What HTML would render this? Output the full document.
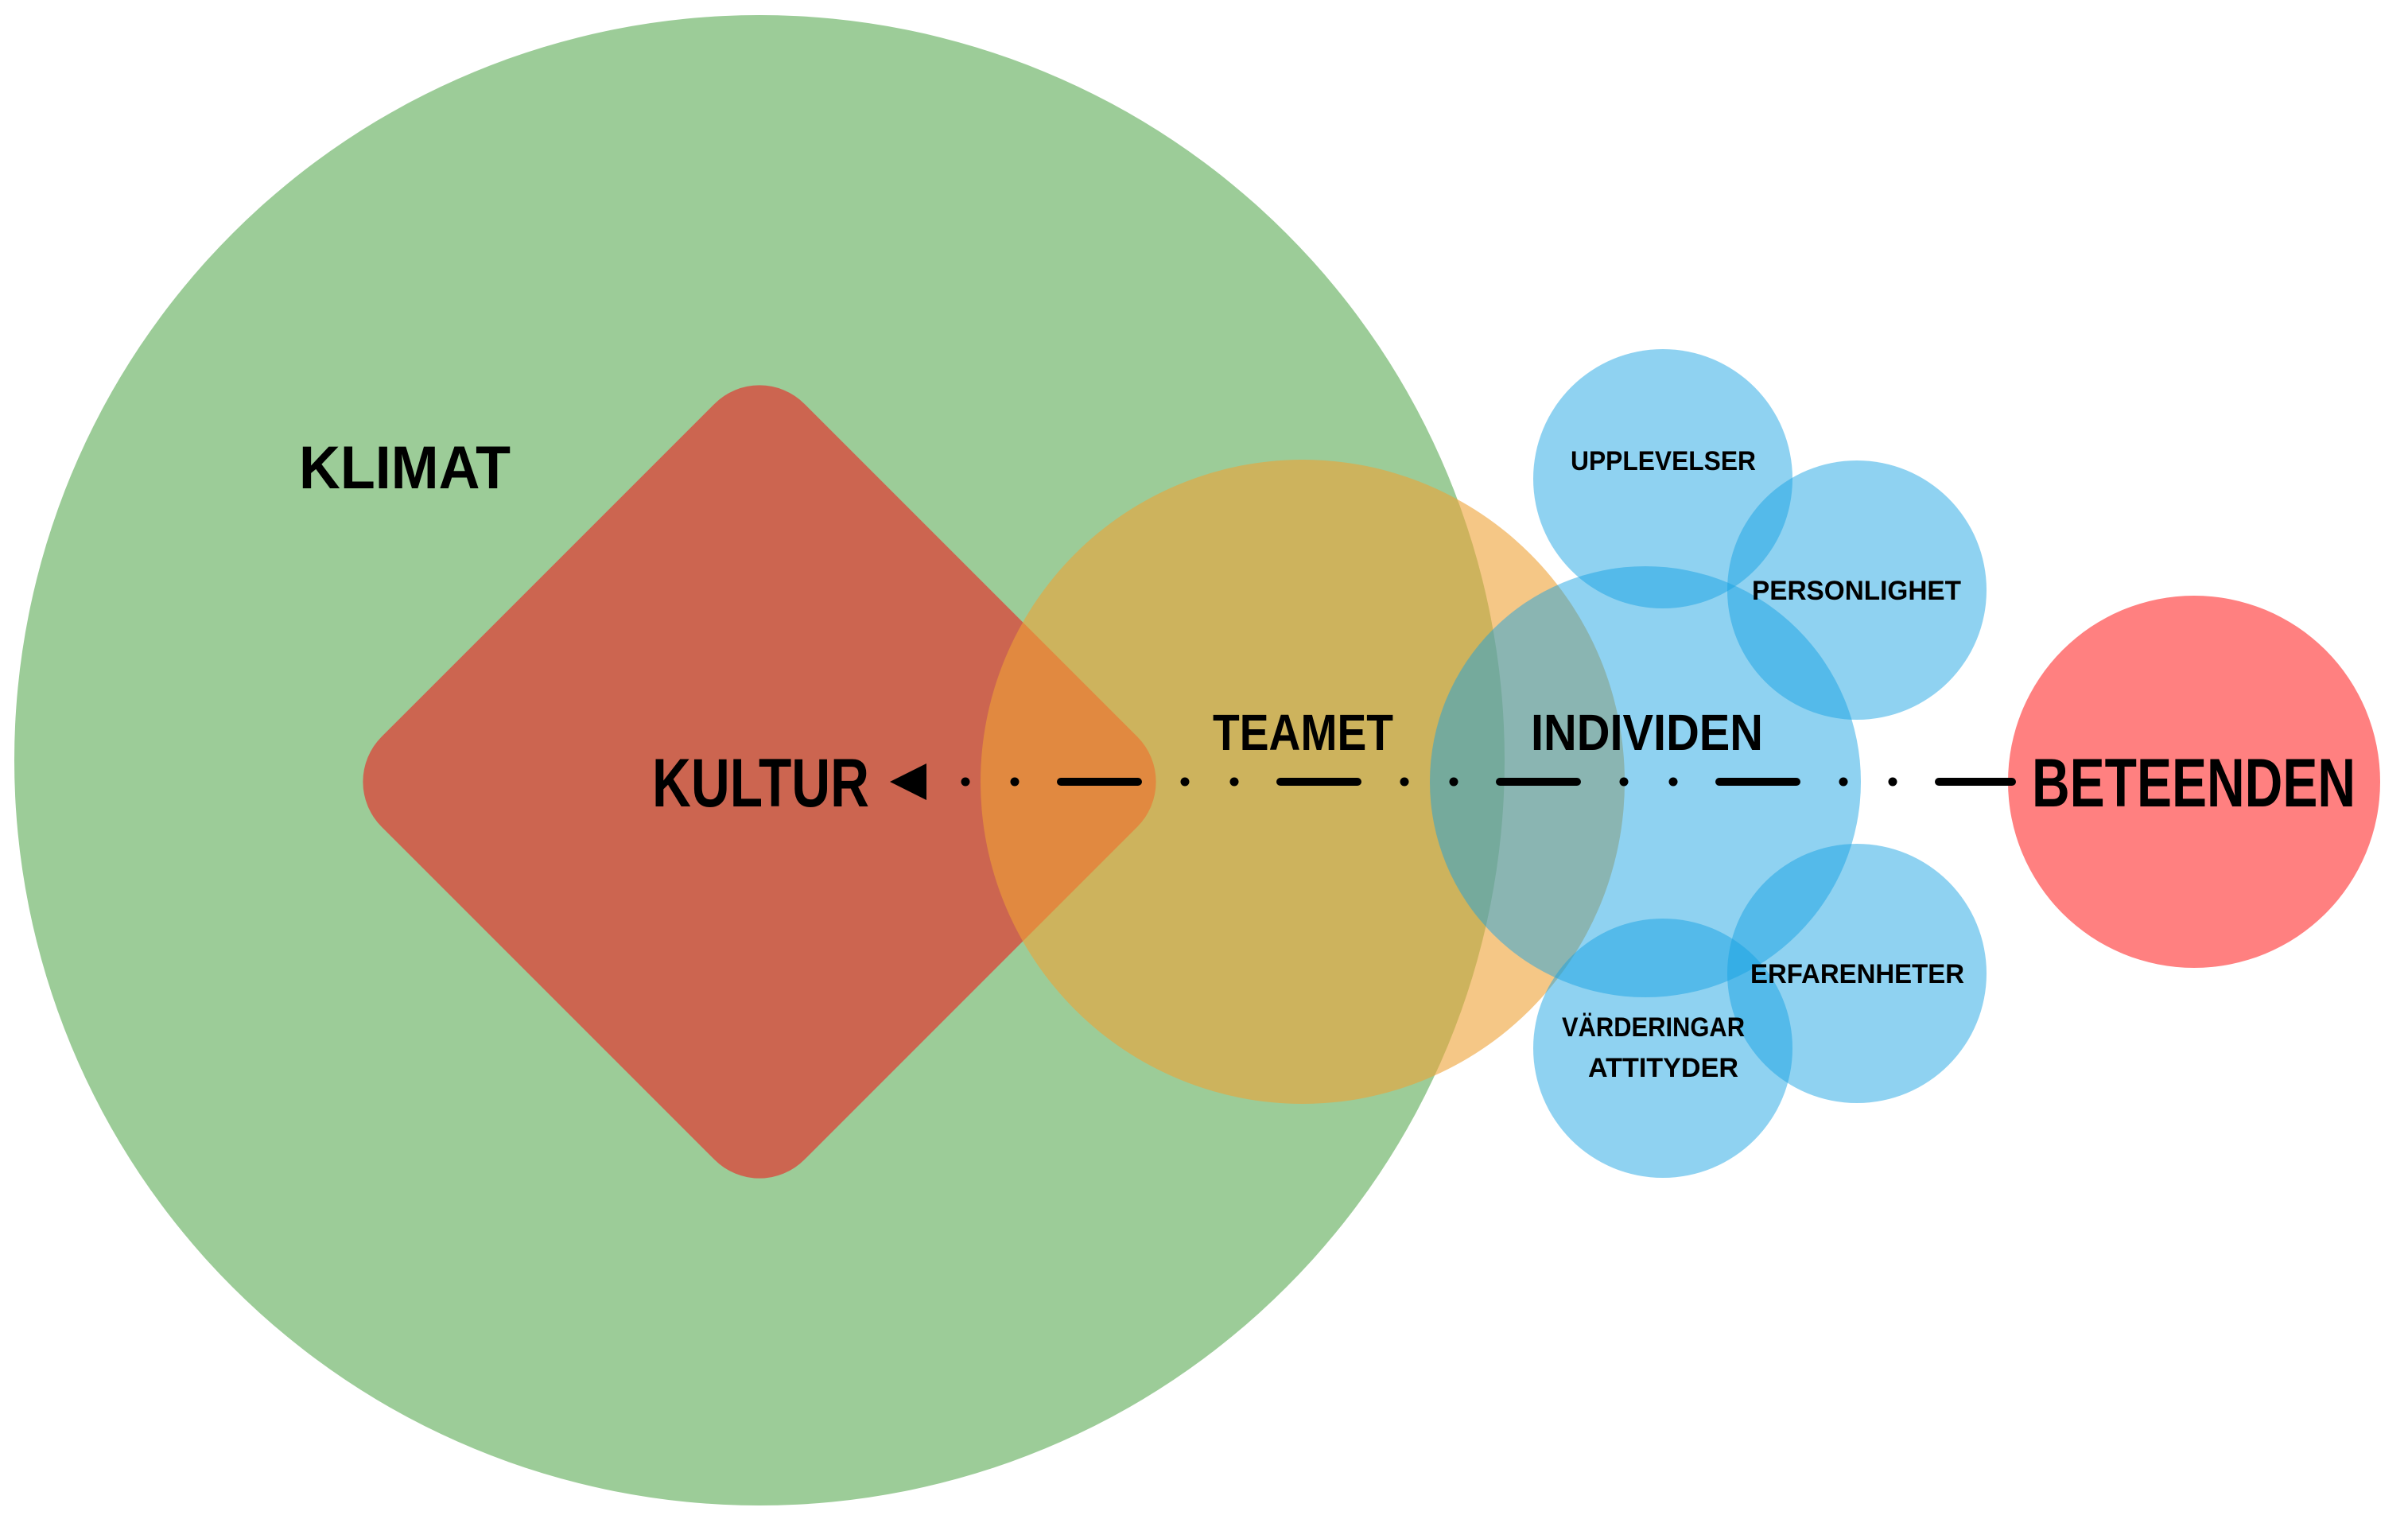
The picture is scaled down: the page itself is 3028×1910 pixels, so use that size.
<!DOCTYPE html>
<html><head><meta charset="utf-8"><style>html,body{margin:0;padding:0;background:#fff}svg{display:block}</style></head>
<body>
<svg width="3028" height="1910" viewBox="0 0 3028 1910" xmlns="http://www.w3.org/2000/svg" font-family="'Liberation Sans', sans-serif" font-weight="bold">
<rect width="3028" height="1910" fill="#fff"/>
<circle cx="955" cy="956" r="937" fill="#9ccc98"/>
<rect x="579" y="607" width="752" height="752" rx="80" ry="80" fill="#cc6550" transform="rotate(45 955 983)"/>
<circle cx="1638" cy="983" r="405" fill="#eea236" fill-opacity="0.6"/>
<circle cx="2069" cy="983" r="271" fill="#14a0e1" fill-opacity="0.48"/>
<circle cx="2091" cy="602" r="163" fill="#14a0e1" fill-opacity="0.48"/>
<circle cx="2335" cy="742" r="163" fill="#14a0e1" fill-opacity="0.48"/>
<circle cx="2335" cy="1224" r="163" fill="#14a0e1" fill-opacity="0.48"/>
<circle cx="2091" cy="1318" r="163" fill="#14a0e1" fill-opacity="0.48"/>
<circle cx="2759" cy="983" r="234" fill="#ff8080"/>
<g stroke="#000" stroke-width="10" stroke-linecap="round">
<line x1="1334" y1="983" x2="1431" y2="983"/>
<line x1="1610" y1="983" x2="1707" y2="983"/>
<line x1="1886" y1="983" x2="1983" y2="983"/>
<line x1="2162" y1="983" x2="2259" y2="983"/>
<line x1="2438" y1="983" x2="2530" y2="983"/>
</g>
<g fill="#000">
<circle cx="1214" cy="983" r="5.5"/><circle cx="1276" cy="983" r="5.5"/>
<circle cx="1490" cy="983" r="5.5"/><circle cx="1552" cy="983" r="5.5"/>
<circle cx="1766" cy="983" r="5.5"/><circle cx="1828" cy="983" r="5.5"/>
<circle cx="2042" cy="983" r="5.5"/><circle cx="2104" cy="983" r="5.5"/>
<circle cx="2318" cy="983" r="5.5"/><circle cx="2380" cy="983" r="5.5"/>
<polygon points="1119,983 1165,960 1165,1006"/>
</g>
<g fill="#000">
<text x="376" y="614" font-size="76" textLength="266" lengthAdjust="spacingAndGlyphs">KLIMAT</text>
<text x="820" y="1014" font-size="86" textLength="273" lengthAdjust="spacingAndGlyphs">KULTUR</text>
<text x="1525" y="943" font-size="64" textLength="227" lengthAdjust="spacingAndGlyphs">TEAMET</text>
<text x="1925" y="943" font-size="64" textLength="292" lengthAdjust="spacingAndGlyphs">INDIVIDEN</text>
<text x="2555" y="1014" font-size="86" textLength="407" lengthAdjust="spacingAndGlyphs">BETEENDEN</text>
<text x="1975" y="591" font-size="34" textLength="233" lengthAdjust="spacingAndGlyphs">UPPLEVELSER</text>
<text x="2203" y="754" font-size="34" textLength="263" lengthAdjust="spacingAndGlyphs">PERSONLIGHET</text>
<text x="2201" y="1236" font-size="34" textLength="269" lengthAdjust="spacingAndGlyphs">ERFARENHETER</text>
<text x="1964" y="1303" font-size="34" textLength="230" lengthAdjust="spacingAndGlyphs">VÄRDERINGAR</text>
<text x="1997" y="1354" font-size="34" textLength="189" lengthAdjust="spacingAndGlyphs">ATTITYDER</text>
</g>
</svg>
</body></html>
